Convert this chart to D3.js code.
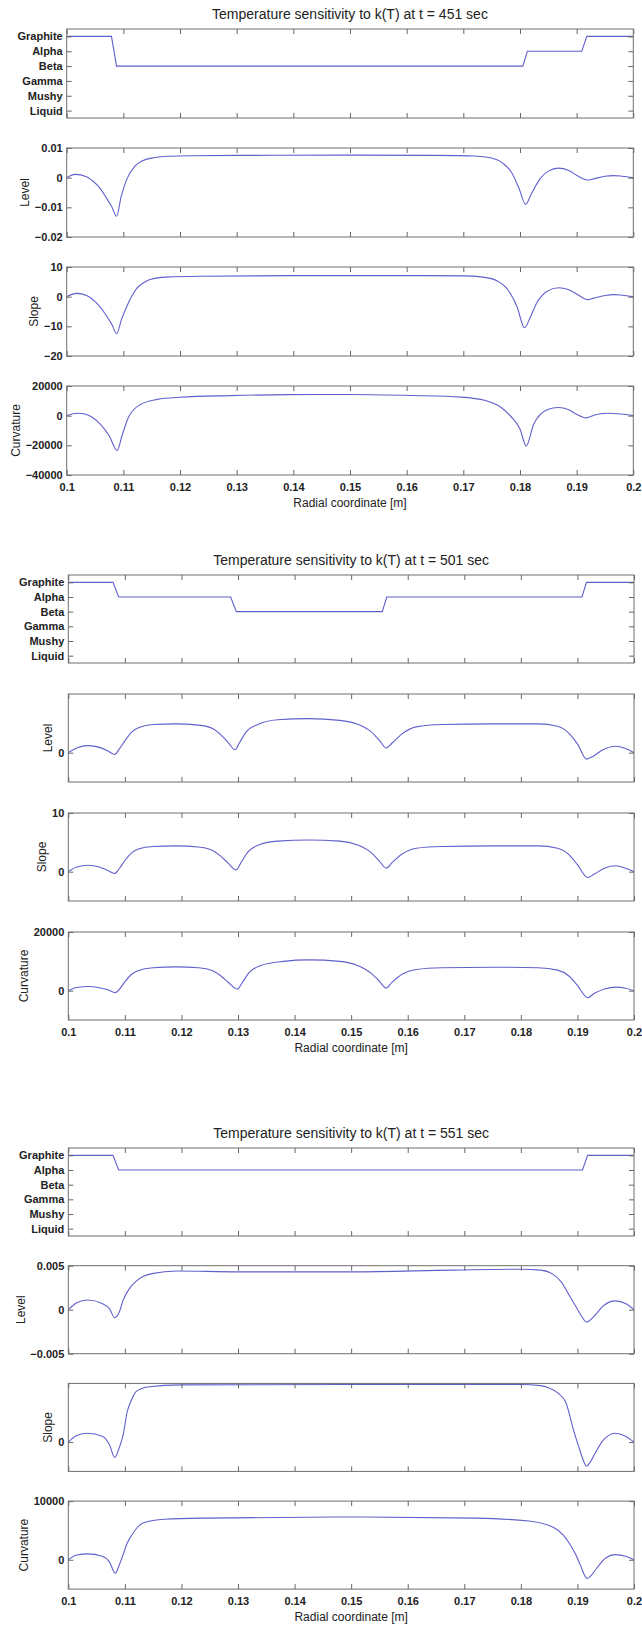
<!DOCTYPE html>
<html>
<head>
<meta charset="utf-8">
<script src="https://cdn.jsdelivr.net/npm/d3@7"></script>
<style>
  body { margin: 0; background: #fff; }
  text { font-family: "Liberation Sans", Arial, sans-serif; fill: #222; }
  .tick text { font-size: 11px; font-weight: bold; fill: #222; }
  .tick line { stroke: #666; }
</style>
</head>
<body>
<div id="d3-container"></div>
<script>
/* DATA */
const xTicks = [0.1, 0.11, 0.12, 0.13, 0.14, 0.15, 0.16, 0.17, 0.18, 0.19, 0.2];
const phaseNames = ["Graphite", "Alpha", "Beta", "Gamma", "Mushy", "Liquid"];
const times = [451, 501, 551];
const rowNames = ["Level", "Slope", "Curvature"];

// phase index along the radius (0 = Graphite ... 5 = Liquid)
const phase451 = [[0.1,0],[0.1079,0],[0.1088,2],[0.1805,2],[0.1813,1],[0.1909,1],[0.1918,0],[0.2,0]];
const phase501 = [[0.1,0],[0.1079,0],[0.1089,1],[0.1287,1],[0.1297,2],[0.1555,2],[0.1563,1],[0.1908,1],[0.1916,0],[0.2,0]];
const phase551 = [[0.1,0],[0.1079,0],[0.1089,1],[0.1909,1],[0.1918,0],[0.2,0]];

// t = 451 sec
const level451 = [[0.1,0],[0.1015,0.0011],[0.1035,0.0003],[0.1045,-0.001],[0.1055,-0.0027],[0.107,-0.0068],[0.108,-0.01],[0.1088,-0.013],
  [0.1096,-0.0065],[0.1105,-0.001],[0.112,0.0038],[0.1135,0.0058],[0.115,0.0066],[0.118,0.0072],[0.122,0.0074],[0.13,0.0075],
  [0.15,0.0076],[0.165,0.0075],[0.172,0.0073],[0.175,0.0066],[0.177,0.0048],[0.1785,0.0018],[0.1798,-0.0035],[0.181,-0.009],
  [0.182,-0.0055],[0.1835,-0.0005],[0.185,0.0022],[0.1868,0.0032],[0.1885,0.0025],[0.19,0.0008],[0.1915,-0.0006],[0.1922,-0.0008],
  [0.193,-0.0004],[0.195,0.0005],[0.1965,0.0007],[0.198,0.0005],[0.2,0]];
const slope451 = [[0.1,0],[0.1018,1.1],[0.1035,0.4],[0.1053,-2.2],[0.1071,-6.7],[0.108,-9.5],[0.1088,-12.5],[0.1097,-7.5],
  [0.1106,-3.3],[0.1115,0.2],[0.1124,2.9],[0.1135,4.6],[0.1147,5.8],[0.1176,6.6],[0.1235,6.9],[0.14,7.1],[0.16,7.1],[0.17,7.0],
  [0.1735,6.6],[0.176,5.3],[0.1778,2.5],[0.1795,-3.5],[0.1808,-10.5],[0.1818,-7],[0.183,-2],[0.1848,1.8],[0.1868,3.0],[0.1885,2.4],
  [0.19,0.9],[0.1913,-0.6],[0.192,-1.0],[0.193,-0.5],[0.195,0.4],[0.1965,0.7],[0.198,0.5],[0.2,0]];
const curv451 = [[0.1,0],[0.102,1600],[0.1035,800],[0.1045,-1100],[0.106,-6000],[0.1075,-13500],[0.1089,-23500],[0.1098,-13000],
  [0.1109,-1100],[0.113,7500],[0.116,11000],[0.12,12400],[0.129,13500],[0.139,14200],[0.15,14300],[0.161,13600],[0.1696,12500],
  [0.1739,10200],[0.1765,6000],[0.1785,-1000],[0.18,-9000],[0.1811,-20500],[0.1824,-6000],[0.1848,4000],[0.1868,5500],[0.1885,4200],
  [0.19,900],[0.1917,-1500],[0.1935,800],[0.1957,1600],[0.1978,1100],[0.2,0]];

// t = 501 sec
const level501 = [[0.1,0],[0.1015,0.0008],[0.1035,0.0012],[0.1055,0.0009],[0.107,0.0003],[0.1082,-0.0003],[0.109,0.0006],[0.11,0.002],
  [0.1112,0.0035],[0.1125,0.0043],[0.115,0.0048],[0.119,0.0049],[0.123,0.0047],[0.1255,0.0041],[0.127,0.003],[0.1282,0.0018],
  [0.1295,0.0005],[0.1302,0.0016],[0.1315,0.0036],[0.1335,0.0048],[0.137,0.0056],[0.1425,0.0058],[0.148,0.0055],[0.151,0.0049],
  [0.1535,0.0036],[0.155,0.0021],[0.1562,0.0008],[0.1572,0.0016],[0.159,0.0032],[0.1615,0.0044],[0.166,0.0048],[0.175,0.0049],
  [0.183,0.0049],[0.1865,0.0045],[0.1885,0.0033],[0.19,0.0015],[0.1916,-0.0011],[0.1928,-0.0006],[0.1945,0.0005],[0.1968,0.0011],
  [0.1985,0.0007],[0.2,0]];
const slope501 = [[0.1,0],[0.1015,0.8],[0.1035,1.1],[0.1055,0.8],[0.107,0.2],[0.1082,-0.3],[0.109,0.5],[0.11,1.9],[0.1112,3.2],
  [0.1125,3.9],[0.115,4.3],[0.119,4.4],[0.123,4.2],[0.1255,3.6],[0.127,2.6],[0.1282,1.5],[0.1297,0.3],[0.1305,1.5],[0.1318,3.4],
  [0.1338,4.6],[0.137,5.2],[0.1425,5.4],[0.148,5.2],[0.151,4.6],[0.1535,3.3],[0.155,1.8],[0.1562,0.6],[0.1572,1.5],[0.159,3.0],
  [0.1615,4.0],[0.166,4.3],[0.175,4.4],[0.183,4.4],[0.1865,4.0],[0.1885,2.9],[0.19,1.2],[0.1918,-1.0],[0.193,-0.4],[0.1948,0.6],
  [0.1968,1.0],[0.1985,0.6],[0.2,0]];
const curv501 = [[0.1,0],[0.1015,1100],[0.1035,1400],[0.1055,1000],[0.107,300],[0.1083,-700],[0.109,400],[0.11,3000],[0.1112,5600],
  [0.1125,6900],[0.115,7800],[0.119,8100],[0.123,7800],[0.1255,6800],[0.127,5000],[0.1283,2800],[0.1299,500],[0.1307,2600],
  [0.132,6200],[0.134,8600],[0.138,10000],[0.1425,10500],[0.148,10000],[0.151,8700],[0.1535,6000],[0.155,3200],[0.1562,900],
  [0.1572,2800],[0.159,5600],[0.1615,7200],[0.166,7800],[0.175,8000],[0.183,7800],[0.1865,7000],[0.1885,5000],[0.19,1800],
  [0.1918,-2400],[0.193,-900],[0.1948,600],[0.1968,1200],[0.1985,800],[0.2,0]];

// t = 551 sec
const level551 = [[0.1,0],[0.1015,0.0008],[0.1034,0.0011],[0.106,0.0007],[0.1073,0.0001],[0.1082,-0.0009],[0.109,-0.0003],
  [0.1097,0.0011],[0.1108,0.0024],[0.1119,0.0032],[0.1133,0.0038],[0.1148,0.0041],[0.1192,0.0044],[0.13,0.0043],[0.15,0.0043],
  [0.168,0.0045],[0.18,0.0046],[0.1835,0.0045],[0.1855,0.0041],[0.1872,0.0031],[0.1885,0.0017],[0.1897,0.0004],[0.1908,-0.0008],
  [0.1916,-0.0014],[0.193,-0.0007],[0.1945,0.0004],[0.1967,0.001],[0.1985,0.0007],[0.2,0]];
const slope551 = [[0.1,0],[0.1015,0.9],[0.1034,1.2],[0.106,0.8],[0.1073,-0.4],[0.1082,-2.1],[0.109,-0.8],[0.1097,1.0],[0.1104,4.1],
  [0.1112,5.8],[0.1119,6.8],[0.113,7.3],[0.114,7.5],[0.12,7.8],[0.15,7.85],[0.18,7.85],[0.1835,7.7],[0.1849,7.4],[0.1865,6.7],
  [0.1879,5.5],[0.1894,1.4],[0.1903,-0.8],[0.1909,-2.2],[0.1916,-3.3],[0.1922,-2.8],[0.193,-1.7],[0.1945,0.2],[0.1967,1.2],
  [0.1985,0.8],[0.2,0]];
const curv551 = [[0.1,0],[0.1015,800],[0.1034,1000],[0.106,600],[0.1073,-400],[0.1083,-2300],[0.109,-900],[0.1097,900],[0.1104,2800],
  [0.1111,4000],[0.1122,5500],[0.1133,6300],[0.117,6900],[0.1243,7100],[0.15,7300],[0.172,7100],[0.1814,6600],[0.1858,5500],
  [0.1875,4200],[0.1887,2600],[0.1897,900],[0.1905,-870],[0.1917,-3200],[0.1925,-2600],[0.1934,-1450],[0.195,300],[0.1967,870],
  [0.1985,600],[0.2,0]];

// y ranges and tick values of each panel
const levelDomains = [[-0.02, 0.01], [-0.005, 0.01], [-0.005, 0.005]];
const levelTicks = [[0.01, 0, -0.01, -0.02], [0], [0.005, 0, -0.005]];
const slopeDomains = [[-20, 10], [-5, 10], [-4, 8]];
const slopeTicks = [[10, 0, -10, -20], [10, 0], [0]];
const curvDomains = [[-40000, 20000], [-10000, 20000], [-5000, 10000]];
const curvTicks = [[20000, 0, -20000, -40000], [20000, 0], [10000, 0]];

const phaseSeries = [phase451, phase501, phase551];
const levelSeries = [level451, level501, level551];
const slopeSeries = [slope451, slope501, slope551];
const curvSeries = [curv451, curv501, curv551];

/* LAYOUT */
const width = 642, height = 1628;
const groups = [
  { top: 29, left: 66.7, right: 633.3, step: 119, h: 89 },
  { top: 575, left: 68.3, right: 634, step: 119, h: 88 },
  { top: 1148, left: 68.3, right: 634, step: 117.7, h: 88 }
];
const lineColor = "#6060cc";
const boxColor = "#6e6e6e";

let svg;

function init() {
  svg = d3.select("#d3-container")
    .append("svg")
    .attr("width", width)
    .attr("height", height);

  groups.forEach((g, gi) => drawGroup(g, gi));
}

function drawGroup(g, gi) {
  const xScale = d3.scaleLinear().domain([0.1, 0.2]).range([g.left, g.right]);

  // title
  svg.append("text")
    .attr("x", (g.left + g.right) / 2)
    .attr("y", g.top - 14)
    .attr("text-anchor", "middle")
    .attr("dominant-baseline", "middle")
    .style("font-size", "14px")
    .text(`Temperature sensitivity to k(T) at t = ${times[gi]} sec`);

  const panels = [
    { data: phaseSeries[gi], domain: [5.5, -0.5], ticks: [0, 1, 2, 3, 4, 5], fmt: i => phaseNames[i], label: null, curve: d3.curveLinear },
    { data: levelSeries[gi], domain: levelDomains[gi], ticks: levelTicks[gi], fmt: d3.format(""), label: rowNames[0], curve: d3.curveMonotoneX },
    { data: slopeSeries[gi], domain: slopeDomains[gi], ticks: slopeTicks[gi], fmt: d3.format(""), label: rowNames[1], curve: d3.curveMonotoneX },
    { data: curvSeries[gi], domain: curvDomains[gi], ticks: curvTicks[gi], fmt: d3.format(""), label: rowNames[2], curve: d3.curveMonotoneX }
  ];

  panels.forEach((p, pi) => {
    const top = g.top + pi * g.step;
    const bottom = top + g.h;
    const yScale = d3.scaleLinear().domain(p.domain).range([bottom, top]);
    const isLast = pi === panels.length - 1;

    const panel = svg.append("g").attr("class", "panel");

    // line
    const line = d3.line()
      .x(d => xScale(d[0]))
      .y(d => yScale(d[1]))
      .curve(p.curve);

    panel.append("path")
      .datum(p.data)
      .attr("fill", "none")
      .attr("stroke", lineColor)
      .attr("stroke-width", 1.1)
      .attr("d", line);

    // axes with inward ticks
    const left = panel.append("g")
      .attr("transform", `translate(${g.left},0)`)
      .call(d3.axisLeft(yScale).tickValues(p.ticks).tickFormat(p.fmt).tickSizeInner(-5).tickSizeOuter(0).tickPadding(4));
    panel.append("g")
      .attr("transform", `translate(${g.right},0)`)
      .call(d3.axisRight(yScale).tickValues(p.ticks).tickFormat("").tickSizeInner(-5).tickSizeOuter(0));
    panel.append("g")
      .attr("transform", `translate(0,${top})`)
      .call(d3.axisTop(xScale).tickValues(xTicks).tickFormat("").tickSizeInner(-5).tickSizeOuter(0));
    const bottomAxis = d3.axisBottom(xScale).tickValues(xTicks).tickSizeInner(-5).tickSizeOuter(0).tickPadding(8)
      .tickFormat(isLast ? d3.format("") : "");
    panel.append("g")
      .attr("transform", `translate(0,${bottom})`)
      .call(bottomAxis);

    panel.selectAll(".domain").remove();

    // frame
    panel.append("rect")
      .attr("x", g.left)
      .attr("y", top)
      .attr("width", g.right - g.left)
      .attr("height", g.h)
      .attr("fill", "none")
      .attr("stroke", boxColor)
      .attr("stroke-width", 1);

    // y label, just left of the tick labels
    if (p.label) {
      const bb = left.node().getBBox();
      const lx = g.left + bb.x - 9;
      const ly = (top + bottom) / 2;
      panel.append("text")
        .attr("transform", `translate(${lx},${ly}) rotate(-90)`)
        .attr("text-anchor", "middle")
        .attr("dominant-baseline", "middle")
        .style("font-size", "12px")
        .text(p.label);
    }

    if (isLast) {
      panel.append("text")
        .attr("x", (g.left + g.right) / 2)
        .attr("y", bottom + 29)
        .attr("text-anchor", "middle")
        .attr("dominant-baseline", "middle")
        .style("font-size", "12px")
        .text("Radial coordinate [m]");
    }
  });
}

init();
</script>
</body>
</html>
